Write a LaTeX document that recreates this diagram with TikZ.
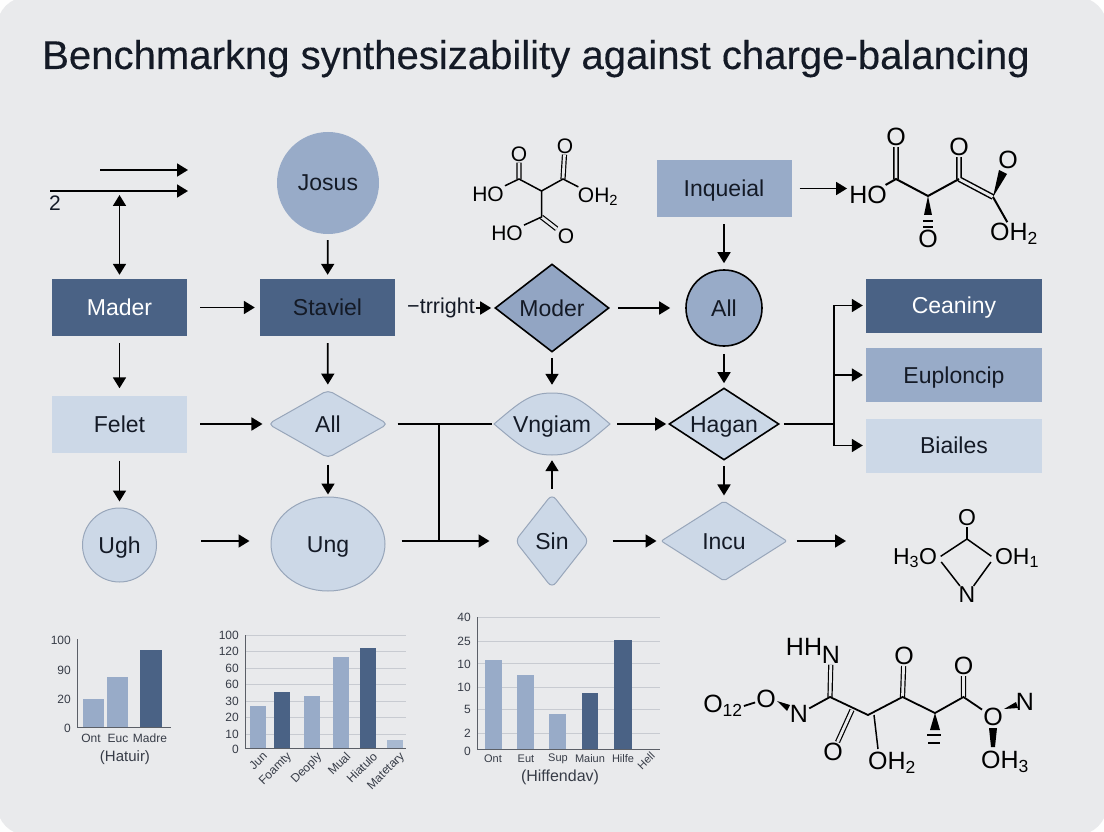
\documentclass[tikz,border=0pt]{standalone}
\usepackage{fontspec}
\setmainfont{Liberation Sans}
\newfontfamily\titlefont[FakeBold=0.25]{Liberation Sans}
\usetikzlibrary{arrows.meta,shapes.geometric}
\definecolor{bgcol}{HTML}{E9EAEC}
\definecolor{darkcol}{HTML}{4A6285}
\definecolor{midcol}{HTML}{98ABC8}
\definecolor{lightcol}{HTML}{CCD8E7}
\definecolor{rimcol}{HTML}{98A6BA}
\definecolor{inkcol}{HTML}{141A26}
\definecolor{gridcol}{HTML}{C8CBD1}
\newcommand{\fsz}[1]{\fontsize{#1}{#1}\selectfont}
\tikzset{
	tipa/.tip={Triangle[length=11pt,width=13pt]},
	arr/.style={-tipa,line width=1.8pt,black},
	plainline/.style={line width=1.8pt,black},
	shp/.style={inner sep=0pt,text height=16pt,text depth=0pt,text=inkcol},
	box/.style={shp,rectangle,minimum width=135pt,minimum height=57pt},
	sidebox/.style={box,minimum width=176pt,minimum height=54pt},
	thinrim/.style={fill=lightcol,draw=rimcol,line width=1pt},
	blackrim/.style={draw=black,line width=1.6pt},
	atom/.style={inner sep=1pt,text=black,font=\fsz{21}},
	bond/.style={line width=1.5pt,black},
	dbl/.style={line width=1.2pt,double=bgcol,double distance=2.8pt,black},
	tick/.style={anchor=east,inner sep=0pt,text=inkcol!85,font=\fsz{12}},
	lab/.style={inner sep=0pt,text=inkcol!85,font=\fsz{12}},
	rotlab/.style={lab,anchor=north east,rotate=45},
}
\begin{document}
\begin{tikzpicture}[x=1pt,y=-1pt,font={\fsz{23}}]
	\useasboundingbox (0,0) rectangle (1104,832);
	\fill[white!96!bgcol] (0,0) rectangle (1104,832);
	\fill[bgcol,rounded corners=30pt] (-3,-3) rectangle (1107,835);
	\node[anchor=base west,inner sep=0pt,text=inkcol,font=\fsz{40.1}\titlefont] (title) at (42,69) {Benchmarkng synthesizability against charge-balancing};

	%%Row 1
	\node[shp,circle,minimum size=102pt,fill=midcol] (josus) at (328,183) {Josus};
	\node[box,fill=midcol] (inqueial) at (724,188.5) {Inqueial};
	%%Row 2
	\node[box,fill=darkcol,text=white] (mader) at (119.5,307.5) {Mader};
	\node[box,fill=darkcol] (staviel) at (327.5,307.5) {Staviel};
	\node[inner sep=0pt,font=\fsz{21.5},text=inkcol] (trright) at (441,308) {−trright};
	\node[shp,diamond,shape aspect=1.3,minimum width=114pt,minimum height=88pt,fill=midcol!92!darkcol,blackrim] (moder) at (552,308) {Moder};
	\node[shp,circle,minimum size=76pt,fill=midcol,blackrim] (allb) at (724,308) {All};
	\node[sidebox,fill=darkcol,text=white] (ceaniny) at (954,305.5) {Ceaniny};
	\node[sidebox,fill=midcol] (euploncip) at (954,375) {Euploncip};
	\node[sidebox,fill=lightcol] (biailes) at (954,445.5) {Biailes};
	%%Row 3
	\node[box,fill=lightcol] (felet) at (119.5,424) {Felet};
	\node[shp,diamond,shape aspect=1.76,minimum width=120pt,minimum height=68pt,rounded corners=5pt,thinrim] (alla) at (328,424) {All};
	\filldraw[thinrim] (494,424) .. controls (520,402) and (530,393) .. (552,393) .. controls (574,393) and (584,402) .. (610,424) .. controls (584,446) and (574,455) .. (552,455) .. controls (530,455) and (520,446) .. (494,424) -- cycle;
	\node[shp,diamond,shape aspect=1.87,minimum width=116pt,minimum height=62pt] (vngiam) at (552,424) {Vngiam};
	\node[shp,diamond,shape aspect=1.53,minimum width=110pt,minimum height=72pt,fill=lightcol,blackrim] (hagan) at (724,424) {Hagan};
	%%Row 4
	\node[shp,circle,minimum size=74pt,thinrim] (ugh) at (119.5,545) {Ugh};
	\node[shp,ellipse,minimum width=114pt,minimum height=94pt,thinrim] (ung) at (328,544) {Ung};
	\node[shp,diamond,shape aspect=0.79,minimum width=74pt,minimum height=94pt,rounded corners=6pt,thinrim] (sin) at (552,541) {Sin};
	\node[shp,diamond,shape aspect=1.57,minimum width=126pt,minimum height=80pt,rounded corners=2pt,thinrim] (incu) at (724,541) {Incu};

	%%Free ends and joints
	\coordinate (topa) at (100,170);
	\coordinate (topb) at (188,170);
	\coordinate (lina) at (50,191);
	\coordinate (linb) at (188,191);
	\coordinate (linc) at (119.5,191);
	\coordinate (joina) at (439,424);
	\coordinate (joinb) at (439,541);
	\coordinate (trunk) at (834,424);
	\coordinate (incuend) at (848,541);
	\node[inner sep=0pt,font=\fsz{21},text=inkcol] (two) at (55,203) {2};
	\draw[arr] (topa)--(topb);
	\draw[arr] (lina)--(linb);
	\draw[arr,tipa-tipa,shorten <=4pt,shorten >=4pt] (linc)--(mader);

	%%Arrows between nodes
	\foreach \from/\to/\ss/\se in {mader/staviel/13/5,josus/staviel/6/4,staviel/alla/7/5,mader/felet/7/7,felet/alla/13/5,felet/ugh/8/6,alla/ung/6/2,trright/moder/1/3,moder/allb/8/15,moder/vngiam/5/8,allb/hagan/7/4,inqueial/allb/7/6,vngiam/hagan/7/2,hagan/incu/5/5,sin/vngiam/5/5,sin/incu/23/4,incu/incuend/9/2}
		\draw[arr,shorten <=\ss pt,shorten >=\se pt] (\from)--(\to);
	\draw[arr,shorten <=44pt,shorten >=21pt] (ugh.east |- joinb)--(ung.west |- joinb);
	\draw[arr,shorten <=16pt,shorten >=25pt] (ung.east |- joinb)--(sin.west |- joinb);
	\draw[plainline,shorten <=9pt] (alla)--(joina);
	\draw[plainline,shorten >=2pt] (joina)--(vngiam);
	\draw[plainline] (joina)--(joinb);
	\draw[plainline,shorten <=4pt] (hagan)--(trunk);
	\draw[arr,shorten >=3pt] (trunk) |- (ceaniny);
	\draw[arr,shorten >=3pt] (trunk) |- (euploncip);
	\draw[arr,shorten >=3pt] (trunk) |- (biailes);

	%%Molecule top middle
	\begin{scope}[every node/.style={atom}]
		\coordinate (ca) at (519,179);
		\coordinate (cb) at (541.5,191);
		\coordinate (cc) at (563,179);
		\coordinate (cd) at (541.5,217);
		\node (oa) at (519,154) {O};
		\node (ob) at (565,146) {O};
		\node (hoa) at (488,194) {HO};
		\node (oha) at (598,197) {OH\textsubscript{2}};
		\node (hob) at (507,233) {HO};
		\node (oc) at (566,236) {O};
	\end{scope}
	\draw[dbl] (ca)--(oa) (cc)--(ob) (cd)--(oc);
	\draw[bond] (hoa)--(ca)--(cb)--(cc)--(oha) (cb)--(cd)--(hob);

	%%Molecule top right
	\begin{scope}[every node/.style={atom,font=\fsz{25}}]
		\coordinate (da) at (896,179);
		\coordinate (db) at (928,196);
		\coordinate (dc) at (959,179);
		\coordinate (dd) at (993,197);
		\node (od) at (896,137) {O};
		\node (hoc) at (868,195) {HO};
		\node (oe) at (928,239) {O};
		\node (of) at (959,147) {O};
		\node (og) at (1008,160) {O};
		\node (ohb) at (1014,234) {OH\textsubscript{2}};
	\end{scope}
	\draw[dbl,line width=1.5pt] (da)--(od) (dc)--(of) (dc)--(dd);
	\draw[bond,line width=2pt] (hoc)--(da)--(db)--(dc) (dd)--(ohb);
	\fill (db)--(924,215)--(932,215)--cycle;
	\draw[bond,line width=1.8pt] (923,221)--(933,221) (923,227)--(933,227);
	\fill (dd)--(999,170)--(1007,174)--cycle;
	\draw[arr,shorten <=8pt,shorten >=1pt] (inqueial.east)--(inqueial.east -| hoc.west);

	%%Small molecule on the right
	\begin{scope}[every node/.style={atom,font=\fsz{23}}]
		\coordinate (ea) at (967,539);
		\node (oh) at (967,518) {O};
		\node (oi) at (915,558) {H\textsubscript{3}O};
		\node (ohc) at (1017,558) {OH\textsubscript{1}};
		\node (na) at (967,595) {N};
	\end{scope}
	\draw[bond,shorten >=3pt] (ea)--(oi.east);
	\draw[bond,shorten >=3pt] (ea)--(ohc.west);
	\draw[bond] (oh)--(ea);
	\draw[bond,shorten <=5pt] (oi.east)--(na);
	\draw[bond,shorten <=5pt] (ohc.west)--(na);

	%%Molecule bottom right
	\begin{scope}[every node/.style={atom,font=\fsz{25}}]
		\coordinate (fa) at (830,697);
		\coordinate (fb) at (852,710);
		\coordinate (fc) at (868,715);
		\coordinate (fd) at (902.5,697);
		\coordinate (fe) at (935,713);
		\coordinate (ff) at (963.5,697);
		\coordinate (fg) at (874,715);
		\node (oj) at (723,706) {O\textsubscript{12}};
		\node (ok) at (766,699) {O};
		\node (nb) at (799,714) {N};
		\node (hh) at (804,647) {HH};
		\node (nc) at (831,655) {N};
		\node (ol) at (833,752) {O};
		\node (ohd) at (892,763) {OH\textsubscript{2}};
		\node (om) at (904,656) {O};
		\node (on) at (963.5,666) {O};
		\node (oo) at (993,717) {O};
		\node (nd) at (1025,702) {N};
		\node (ohe) at (1005,762) {OH\textsubscript{3}};
	\end{scope}
	\draw[dbl] (fa)--(nc) (fb)--(ol) (fd)--(om) (ff)--(on);
	\draw[bond,line width=1.8pt] (oj.east)--(ok) (nb)--(fa)--(fc)--(fd)--(fe)--(ff)--(oo);
	\draw[bond] (fg)--(878,749);
	\fill (777,701)--(790,705)--(787,711)--cycle;
	\fill (fe)--(930,730)--(940,730)--cycle;
	\draw[bond,line width=1.8pt] (927,735)--(941,735) (928,743)--(940,743);
	\fill (1004,709)--(1016,702)--(1018,708)--cycle;
	\fill (989,728)--(997,728)--(995,747)--(991,747)--cycle;

	%%Chart left
	\foreach \xa/\xb/\ytop/\col in {83/104/699/midcol,107/128/677/midcol,140/162/650/darkcol}
		\fill[\col] (\xa,727)rectangle(\xb,\ytop);
	\coordinate (ga) at (77,639);
	\coordinate (gb) at (77,727);
	\coordinate (gc) at (171,727);
	\draw[inkcol!70,line width=1pt] (ga)--(gb)--(gc);
	\foreach \yy/\tx in {640/100,670/90,699/20,728/0}
		\node[tick] at (71,\yy) {\tx};
	\foreach \xx/\tx in {91/Ont,118/Euc,150/Madre}
		\node[lab] at (\xx,738) {\tx};
	\node[lab,font=\fsz{15}] (hatuir) at (125,758) {(Hatuir)};

	%%Chart middle
	\foreach \yy in {635,651,668,684,701,717,734}
		\draw[gridcol,line width=0.8pt] (245,\yy)--(406,\yy);
	\foreach \xa/\xb/\ytop/\col in {250/266/706/midcol,274/290/692/darkcol,304/320/696/midcol,333/349/657/midcol,360/376/648/darkcol,387/403/740/midcol!70!lightcol}
		\fill[\col] (\xa,748)rectangle(\xb,\ytop);
	\coordinate (ha) at (245,635);
	\coordinate (hb) at (245,748);
	\coordinate (hc) at (406,748);
	\draw[inkcol!70,line width=1pt] (ha)--(hb)--(hc);
	\foreach \yy/\tx in {635/100,651/120,668/60,684/60,701/30,717/20,734/10,749/0}
		\node[tick] at (239,\yy) {\tx};
	\foreach \xx/\tx in {262/Jun,286/Foamty,316/Deoply,345/Mual,372/Hiatulo,399/Matetary}
		\node[rotlab] at (\xx,751) {\tx};

	%%Chart right
	\foreach \yy in {617,641,663,687,709,733}
		\draw[gridcol,line width=0.8pt] (477,\yy)--(660,\yy);
	\foreach \xa/\xb/\ytop/\col in {485/502/660/midcol,517/534/675/midcol,549/566/714/midcol,582/598/693/darkcol,614/632/640/darkcol}
		\fill[\col] (\xa,749)rectangle(\xb,\ytop);
	\coordinate (ka) at (477,617);
	\coordinate (kb) at (477,749);
	\coordinate (kc) at (660,749);
	\draw[inkcol!70,line width=1pt] (ka)--(kb)--(kc);
	\foreach \yy/\tx in {617/40,641/25,664/10,687/10,709/5,733/2,751/0}
		\node[tick] at (471,\yy) {\tx};
	\foreach \xx/\tx in {493/Ont,526/Eut,558/Sup,590/Maiun,623/Hilfe}
		\node[lab,font=\fsz{11}] at (\xx,759) {\tx};
	\node[lab,font=\fsz{11},rotate=45] at (646,761) {Hell};
	\node[lab,font=\fsz{16}] (hiffendav) at (560,777) {(Hiffendav)};
\end{tikzpicture}
\end{document}
